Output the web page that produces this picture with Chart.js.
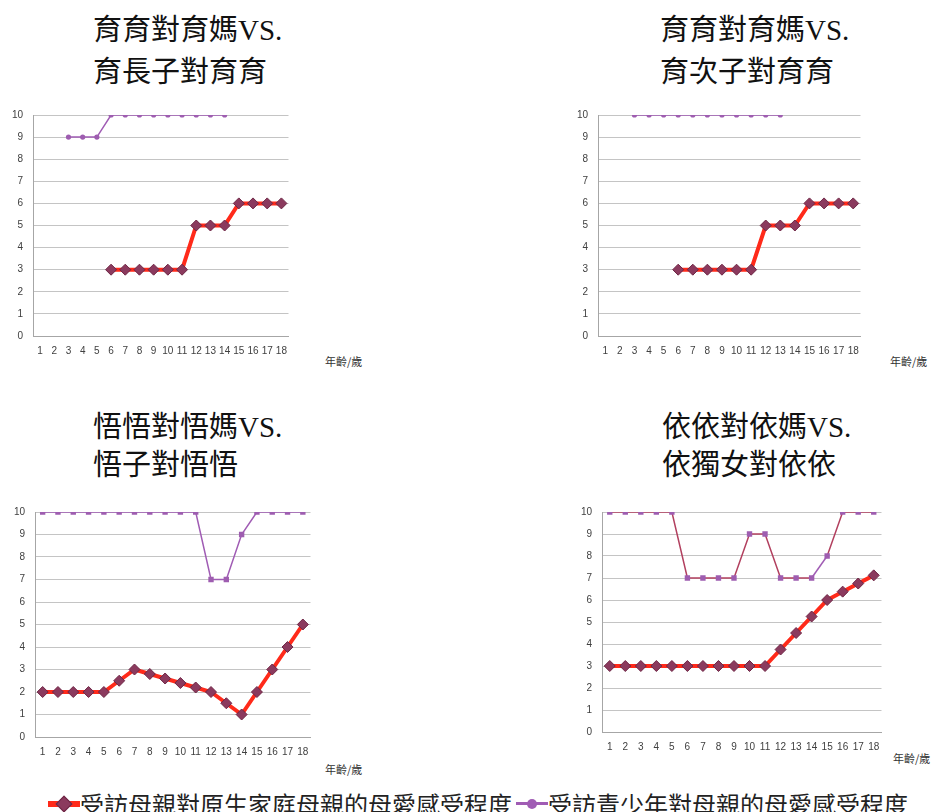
<!DOCTYPE html>
<html>
<head>
<meta charset="utf-8">
<script src="https://cdn.jsdelivr.net/npm/chart.js@4"></script>
<style>
  body { margin: 0; width: 931px; height: 812px; background: #fff; position: relative; overflow: hidden; }
  canvas, .title, .unit, .legend { position: absolute; }
  .title { font-family: "Liberation Serif", "Noto Sans CJK TC", serif; font-size: 29px; color: #111; white-space: nowrap; }
  .unit { font-family: "Noto Sans CJK TC", sans-serif; font-size: 11px; color: #333; }
  .legend { left: 48px; top: 786px; font-family: "Noto Sans CJK TC", sans-serif; font-size: 24px; color: #222; white-space: nowrap; display: flex; align-items: center; }
  .mk { position: relative; display: inline-block; width: 32px; height: 20px; }
  .mk .ln { position: absolute; left: 0; right: 0; top: 50%; }
  .mk .pt { position: absolute; left: 50%; top: 50%; }
</style>
</head>
<body>

<div class="title" style="left:93px; top:9px; line-height:42px;">育育對育媽VS.<br>育長子對育育</div>
<div class="title" style="left:660px; top:9px; line-height:42px;">育育對育媽VS.<br>育次子對育育</div>
<div class="title" style="left:93px; top:408px; line-height:38px;">悟悟對悟媽VS.<br>悟子對悟悟</div>
<div class="title" style="left:662px; top:408px; line-height:38px;">依依對依媽VS.<br>依獨女對依依</div>

<canvas id="c1"></canvas>
<canvas id="c2"></canvas>
<canvas id="c3"></canvas>
<canvas id="c4"></canvas>

<div class="unit" style="left:325px; top:353px;">年齡/歲</div>
<div class="unit" style="left:890px; top:353px;">年齡/歲</div>
<div class="unit" style="left:325px; top:761px;">年齡/歲</div>
<div class="unit" style="left:893px; top:750px;">年齡/歲</div>

<div class="legend">
  <span class="mk"><span class="ln" style="height:6px; margin-top:-3px; background:#ff2a1a;"></span><span class="pt" style="width:12px; height:12px; margin:-6px 0 0 -6px; background:#8b3a5e; border:1px solid #6e2645; box-sizing:border-box; transform:rotate(45deg);"></span></span><span>受訪母親對原生家庭母親的母愛感受程度</span>
  <span class="mk" style="margin-left:4px;"><span class="ln" style="height:3px; margin-top:-1.5px; background:#a05cb4;"></span><span class="pt" style="width:10px; height:10px; margin:-5px 0 0 -5px; background:#a05cb4; border-radius:50%;"></span></span><span>受訪青少年對母親的母愛感受程度</span>
</div>

<script>
// 年齡 1-18 歲
const ages = ['1', '2', '3', '4', '5', '6', '7', '8', '9', '10', '11', '12', '13', '14', '15', '16', '17', '18'];
const yTicks = [0, 1, 2, 3, 4, 5, 6, 7, 8, 9, 10];

const seriesNames = ['受訪母親對原生家庭母親的母愛感受程度', '受訪青少年對母親的母愛感受程度'];

// 育育 / 育長子
const mom1 = [null, null, null, null, null, 3, 3, 3, 3, 3, 3, 5, 5, 5, 6, 6, 6, 6];
const teen1 = [null, null, 9, 9, 9, 10, 10, 10, 10, 10, 10, 10, 10, 10, null, null, null, null];

// 育育 / 育次子
const mom2 = [null, null, null, null, null, 3, 3, 3, 3, 3, 3, 5, 5, 5, 6, 6, 6, 6];
const teen2 = [null, null, 10, 10, 10, 10, 10, 10, 10, 10, 10, 10, 10, null, null, null, null, null];

// 悟悟 / 悟子
const mom3 = [2, 2, 2, 2, 2, 2.5, 3, 2.8, 2.6, 2.4, 2.2, 2, 1.5, 1, 2, 3, 4, 5];
const teen3 = [10, 10, 10, 10, 10, 10, 10, 10, 10, 10, 10, 7, 7, 9, 10, 10, 10, 10];

// 依依 / 依獨女
const mom4 = [3, 3, 3, 3, 3, 3, 3, 3, 3, 3, 3, 3.75, 4.5, 5.25, 6, 6.38, 6.75, 7.12];
const teen4 = [10, 10, 10, 10, 10, 7, 7, 7, 7, 9, 9, 7, 7, 7, 8, 10, 10, 10];

const RED = '#ff2a1a';
const PURPLE = '#a05cb4';
const CRIMSON = '#b2405f';

// plot area of each panel in page pixels
const panels = [
    { id: 'c1', mom: mom1, teen: teen1, left: 33, right: 290, top: 114, bottom: 336, dot: 'circle' },
    { id: 'c2', mom: mom2, teen: teen2, left: 598, right: 862, top: 114, bottom: 336, dot: 'circle' },
    { id: 'c3', mom: mom3, teen: teen3, left: 35, right: 312, top: 511, bottom: 737, dot: 'rect' },
    { id: 'c4', mom: mom4, teen: teen4, left: 602, right: 883, top: 511, bottom: 732, dot: 'rect', crimson: true }
];

// chart.js ends up ~15px below the canvas top and ~5px short on the right
const Y_W = 33, X_H = 26, PAD_T = 5, EXTRA_T = 15, EXTRA_R = 5;

function makeChart(p) {
    const canvas = document.getElementById(p.id);
    const cl = p.left - Y_W;
    const ct = p.top - EXTRA_T;
    const w = p.right - cl + EXTRA_R;
    const h = p.bottom + X_H - ct;
    canvas.style.left = cl + 'px';
    canvas.style.top = ct + 'px';
    canvas.style.width = w + 'px';
    canvas.style.height = h + 'px';
    canvas.width = w;
    canvas.height = h;

    const teenSet = {
        label: seriesNames[1],
        data: p.teen,
        borderColor: p.crimson ? CRIMSON : PURPLE,
        borderWidth: 1.5,
        pointStyle: p.dot,
        pointRadius: p.dot === 'rect' ? 3.8 : 2.6,
        pointBackgroundColor: '#9e5db0',
        pointBorderColor: '#9e5db0',
        pointBorderWidth: 0,
        tension: 0
    };
    if (p.crimson) {
        // the 14 -> 15 step is drawn in purple in the source
        teenSet.segment = { borderColor: ctx => ctx.p0DataIndex === 13 ? PURPLE : CRIMSON };
    }

    return new Chart(canvas.getContext('2d'), {
        type: 'line',
        data: {
            labels: ages,
            datasets: [
                {
                    label: seriesNames[0],
                    data: p.mom,
                    borderColor: RED,
                    borderWidth: 4,
                    pointStyle: 'rectRot',
                    pointRadius: 5.5,
                    pointBackgroundColor: '#8b3a5e',
                    pointBorderColor: '#6e2645',
                    pointBorderWidth: 1,
                    tension: 0
                },
                teenSet
            ]
        },
        options: {
            responsive: false,
            animation: false,
            layout: { padding: { top: PAD_T, right: 0, left: 0, bottom: 0 } },
            plugins: { legend: { display: false }, tooltip: { enabled: false } },
            scales: {
                x: {
                    offset: true,
                    grid: { display: false },
                    border: { display: true, color: '#a6a6a6', width: 1 },
                    ticks: { color: '#404040', font: { family: 'Liberation Sans', size: 10 }, padding: 1, maxRotation: 0, autoSkip: false },
                    afterFit: s => { s.height = X_H; }
                },
                y: {
                    min: yTicks[0],
                    max: yTicks[yTicks.length - 1],
                    afterBuildTicks: s => { s.ticks = yTicks.map(v => ({ value: v })); },
                    grid: { color: '#c4c4c4', lineWidth: 1, drawTicks: false },
                    border: { display: true, color: '#a6a6a6', width: 1 },
                    ticks: { color: '#404040', font: { family: 'Liberation Sans', size: 10 }, padding: 10 },
                    afterFit: s => { s.width = Y_W; }
                }
            }
        }
    });
}

document.addEventListener('DOMContentLoaded', () => {
    panels.forEach(makeChart);
});
</script>
</body>
</html>
